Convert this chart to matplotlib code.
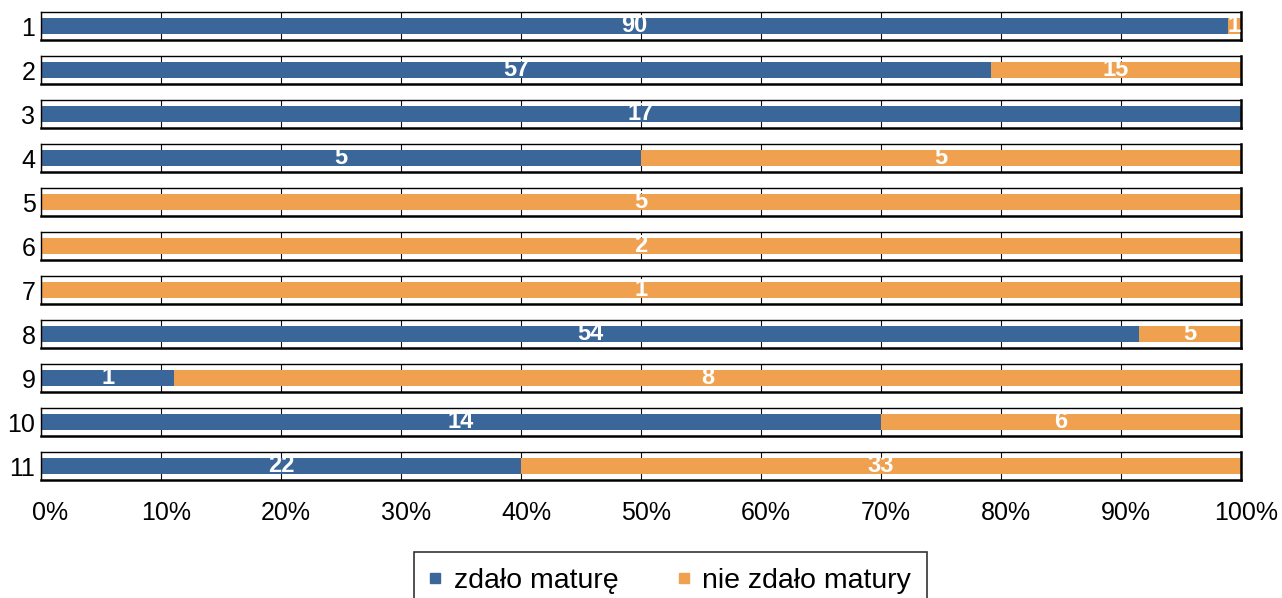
import matplotlib.pyplot as plt
from matplotlib.lines import Line2D
from matplotlib.transforms import ScaledTranslation

# data
rows = ["1", "2", "3", "4", "5", "6", "7", "8", "9", "10", "11"]
passed = [90, 57, 17, 5, 0, 0, 0, 54, 1, 14, 22]
failed = [1, 15, 0, 5, 5, 2, 1, 5, 8, 6, 33]
ticks = [0, 10, 20, 30, 40, 50, 60, 70, 80, 90, 100]
names = ["zdało maturę", "nie zdało matury"]

blue = "#3b6699"
orange = "#f0a150"

plt.rcParams["font.family"] = ["Liberation Sans", "DejaVu Sans"]

W, H = 1282, 598
fig = plt.figure(figsize=(W / 100, H / 100), dpi=100)

left, right = 41, 1241
for i, name in enumerate(rows):
    top = 12 + 44 * i
    ax = fig.add_axes([left / W, 1 - (top + 28) / H, (right - left) / W, 28 / H])
    total = passed[i] + failed[i]
    p = passed[i] / total * 100
    f = failed[i] / total * 100
    ax.barh(0, p, height=0.54, color=blue, zorder=2)
    ax.barh(0, f, left=p, height=0.54, color=orange, zorder=2)
    if passed[i] > 0:
        ax.text(p / 2, 0.0, str(passed[i]), color="white", fontweight="bold",
                fontsize=17, ha="center", va="center", zorder=3)
    if failed[i] > 0:
        ax.text(p + f / 2, 0.0, str(failed[i]), color="white", fontweight="bold",
                fontsize=17, ha="center", va="center", zorder=3)
    ax.set_xlim(0, 100)
    ax.set_ylim(-0.5, 0.5)
    ax.set_xticks(ticks)
    ax.grid(axis="x", color="#111111", linewidth=0.8, zorder=0)
    ax.set_axisbelow(True)
    ax.set_yticks([0])
    ax.set_yticklabels([name], fontsize=18)
    ax.tick_params(axis="y", length=0, pad=4)
    ax.tick_params(axis="x", length=0, pad=15, labelsize=18)
    if i < len(rows) - 1:
        ax.set_xticklabels([])
    else:
        ax.set_xticklabels([f"{t}%" for t in ticks])
        for k, lab in enumerate(ax.get_xticklabels()):
            dx = 9 if k == 0 else 5
            lab.set_transform(lab.get_transform() + ScaledTranslation(dx / 100, 0, fig.dpi_scale_trans))
    for s in ax.spines.values():
        s.set_color("black")
        s.set_linewidth(1.0)
    ax.spines["bottom"].set_linewidth(1.8)
    ax.spines["right"].set_linewidth(1.8)

handles = [Line2D([], [], marker="s", linestyle="", color=blue, markersize=7.5),
           Line2D([], [], marker="s", linestyle="", color=orange, markersize=7.5)]
leg = fig.legend(handles, names, loc="upper left", bbox_to_anchor=(414 / W, 1 - 552 / H),
                 borderaxespad=0, ncol=2, fontsize=20.5, frameon=True, fancybox=False,
                 edgecolor="black", handlelength=0.4, handletextpad=0.45,
                 columnspacing=2.1, borderpad=0.55)
leg.get_frame().set_linewidth(1.2)

fig.savefig("out.png", dpi=100)
